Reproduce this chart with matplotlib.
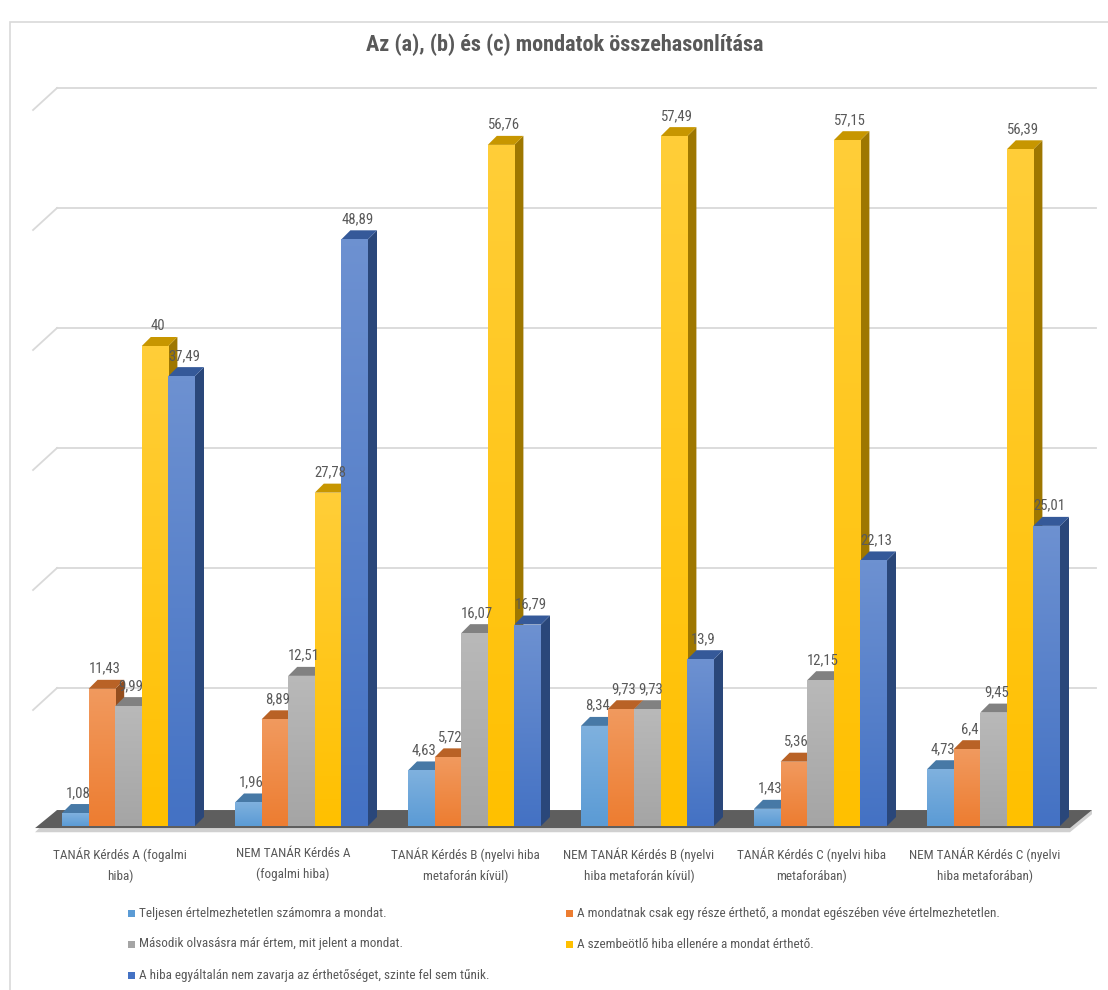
import matplotlib
matplotlib.use('Agg')
import matplotlib.pyplot as plt
import numpy as np
from matplotlib import font_manager as fm
from matplotlib.patches import Polygon, Rectangle
from matplotlib.colors import to_rgb, LinearSegmentedColormap

# --- data ---
title = 'Az (a), (b) és (c) mondatok összehasonlítása'
categories = [
    'TANÁR Kérdés A (fogalmi\nhiba)',
    'NEM TANÁR Kérdés A\n(fogalmi hiba)',
    'TANÁR Kérdés B (nyelvi hiba\nmetaforán kívül)',
    'NEM TANÁR Kérdés B (nyelvi\nhiba metaforán kívül)',
    'TANÁR Kérdés C (nyelvi hiba\nmetaforában)',
    'NEM TANÁR Kérdés C (nyelvi\nhiba metaforában)',
]
series_names = [
    'Teljesen értelmezhetetlen számomra a mondat.',
    'A mondatnak csak egy része érthető, a mondat egészében véve értelmezhetetlen.',
    'Második olvasásra már értem, mit jelent a mondat.',
    'A szembeötlő hiba ellenére a mondat érthető.',
    'A hiba egyáltalán nem zavarja az érthetőséget, szinte fel sem tűnik.',
]
teljesen = [1.08, 1.96, 4.63, 8.34, 1.43, 4.73]
reszben = [11.43, 8.89, 5.72, 9.73, 5.36, 6.4]
masodik = [9.99, 12.51, 16.07, 9.73, 12.15, 9.45]
szembeotlo = [40, 27.78, 56.76, 57.49, 57.15, 56.39]
nem_zavarja = [37.49, 48.89, 16.79, 13.9, 22.13, 25.01]
series = [teljesen, reszben, masodik, szembeotlo, nem_zavarja]
gridlines = [10, 20, 30, 40, 50, 60]

colors = ['#5B9BD5', '#ED7D31', '#A5A5A5', '#FFC000', '#4472C4']
text_col = '#595959'


def pick_font():
    # prefer a narrow face, close to the Calibri look of the original
    ents = fm.fontManager.ttflist
    names = {f.name for f in ents}
    for n in ['Liberation Sans Narrow', 'Roboto Condensed', 'Open Sans Condensed',
              'Noto Sans Condensed', 'DejaVu Sans Condensed']:
        if n in names:
            return n, 'normal'
    for fam in ['Noto Sans', 'Open Sans', 'Roboto', 'DejaVu Sans']:
        for f in ents:
            if f.name == fam and str(f.stretch) in ('condensed', 'semi-condensed'):
                return fam, str(f.stretch)
    return 'Liberation Sans', 'normal'


FAMILY, STRETCH = pick_font()
plt.rcParams['font.family'] = [FAMILY, 'DejaVu Sans']
plt.rcParams['font.stretch'] = STRETCH

W, H = 1108, 990
fig = plt.figure(figsize=(W / 100, H / 100), dpi=100)
renderer = fig.canvas.get_renderer()


def fit_size(s, target_px, max_size, weight='normal'):
    t = fig.text(0, 0, s, fontsize=10, fontweight=weight)
    w = t.get_window_extent(renderer).width
    t.remove()
    return min(max_size, 10 * target_px / w)


title_fs = fit_size(title, 413, 16, 'bold')
cat_fs = fit_size('TANÁR Kérdés B (nyelvi hiba', 148, 10)
leg_fs = fit_size(series_names[1], 427, 9.5)
val_fs = fit_size('56,76', 32, 11)

ax = fig.add_axes([0, 0, 1, 1])
# pixel-like mapping: group spacing 173 px, 12 px per value unit
x0_px, gap_px, y0_px, ppu = 128.5, 173.0, 826.0, 12.0
ax.axis('off')

bw = 26.6 / gap_px          # bar width
bdx, bdy = 9 / gap_px, 9 / ppu      # bar depth offset
fdx, fdy = 22 / gap_px, 18 / ppu    # floor / wall depth


def shade(c, f):
    r, g, b = to_rgb(c)
    return (r * f, g * f, b * f)


def lighten(c, f):
    r, g, b = to_rgb(c)
    return (r + (1 - r) * f, g + (1 - g) * f, b + (1 - b) * f)


# gridlines on back wall + side wall diagonals
gl, gr = -0.413, 5.592
for g in gridlines:
    v = g + fdy
    ax.plot([gl, gr], [v, v], color='#d9d9d9', lw=1.3, zorder=1)
    ax.plot([gl, gl - 24 / gap_px], [v, v - 22 / ppu], color='#d9d9d9', lw=1.3, zorder=1)

# floor
fl, fr, fv = -0.540, 5.442, -0.17
ax.add_patch(Polygon([(fl, fv - 0.35), (fr, fv - 0.35), (fr + fdx, fv + fdy - 0.35),
                      (fr + fdx, fv + fdy), (fl + fdx, fv + fdy)],
                     closed=True, fc='#d0d0d0', ec='none', zorder=1.5))
ax.add_patch(Polygon([(fl, fv), (fr, fv), (fr + fdx, fv + fdy), (fl + fdx, fv + fdy)],
                     closed=True, fc='#5e5e5e', ec='none', zorder=2))

x = np.arange(len(categories))
z = 3
grad = np.linspace(0, 1, 64).reshape(-1, 1)
for i in range(len(categories)):
    for k, (vals, c) in enumerate(zip(series, colors)):
        xc = x[i] + (k - 2) * bw
        v = vals[i]
        left, right = xc - bw / 2, xc + bw / 2
        # side face
        ax.add_patch(Polygon([(right, 0), (right + bdx, bdy), (right + bdx, v + bdy), (right, v)],
                             closed=True, fc=shade(c, 0.62), ec='none', zorder=z))
        # top face
        ax.add_patch(Polygon([(left, v), (right, v), (right + bdx, v + bdy), (left + bdx, v + bdy)],
                             closed=True, fc=shade(c, 0.78), ec='none', zorder=z))
        # front face
        bar = ax.bar(xc, v, width=bw, color=c, zorder=z + 0.1, linewidth=0)[0]
        cmap = LinearSegmentedColormap.from_list('g', [c, lighten(c, 0.22)])
        im = ax.imshow(grad, extent=[left, right, 0, v], origin='lower', cmap=cmap,
                       aspect='auto', zorder=z + 0.2, interpolation='bilinear')
        im.set_clip_path(bar)
        z += 1
        # value label
        ax.text(xc + bdx * 0.3, v + bdy + 0.35, f'{v:g}'.replace('.', ','), ha='center',
                va='bottom', fontsize=val_fs, color=text_col, zorder=100)
    # category label
    ax.text(x[i] - 0.05, -1.75, categories[i], ha='center', va='top', fontsize=cat_fs,
            color=text_col, linespacing=1.75, zorder=100)

ax.set_xlim(-x0_px / gap_px, (W - x0_px) / gap_px)
ax.set_ylim((y0_px - H) / ppu, y0_px / ppu)

# title
fig.text(565 / W, 1 - 45 / H, title, ha='center', va='center', fontsize=title_fs,
         fontweight='bold', color=text_col)

# legend (two columns, Excel-like ordering)
leg_pos = [(128, 913), (566, 913), (128, 944), (566, 944), (128, 975)]
for (lx, ly), name, c in zip(leg_pos, series_names, colors):
    fig.patches.append(Rectangle((lx / W, 1 - (ly + 3.5) / H), 7 / W, 7 / H,
                                 transform=fig.transFigure, fc=c, ec='none'))
    fig.text((lx + 11) / W, 1 - ly / H, name, ha='left', va='center', fontsize=leg_fs,
             color=text_col)

# chart border
fig.patches.append(Rectangle((10 / W, -0.05), 1.1, 1 - 22 / H + 0.05,
                             transform=fig.transFigure, fc='none', ec='#d9d9d9', lw=1.2))

fig.savefig('out.png', dpi=100)
